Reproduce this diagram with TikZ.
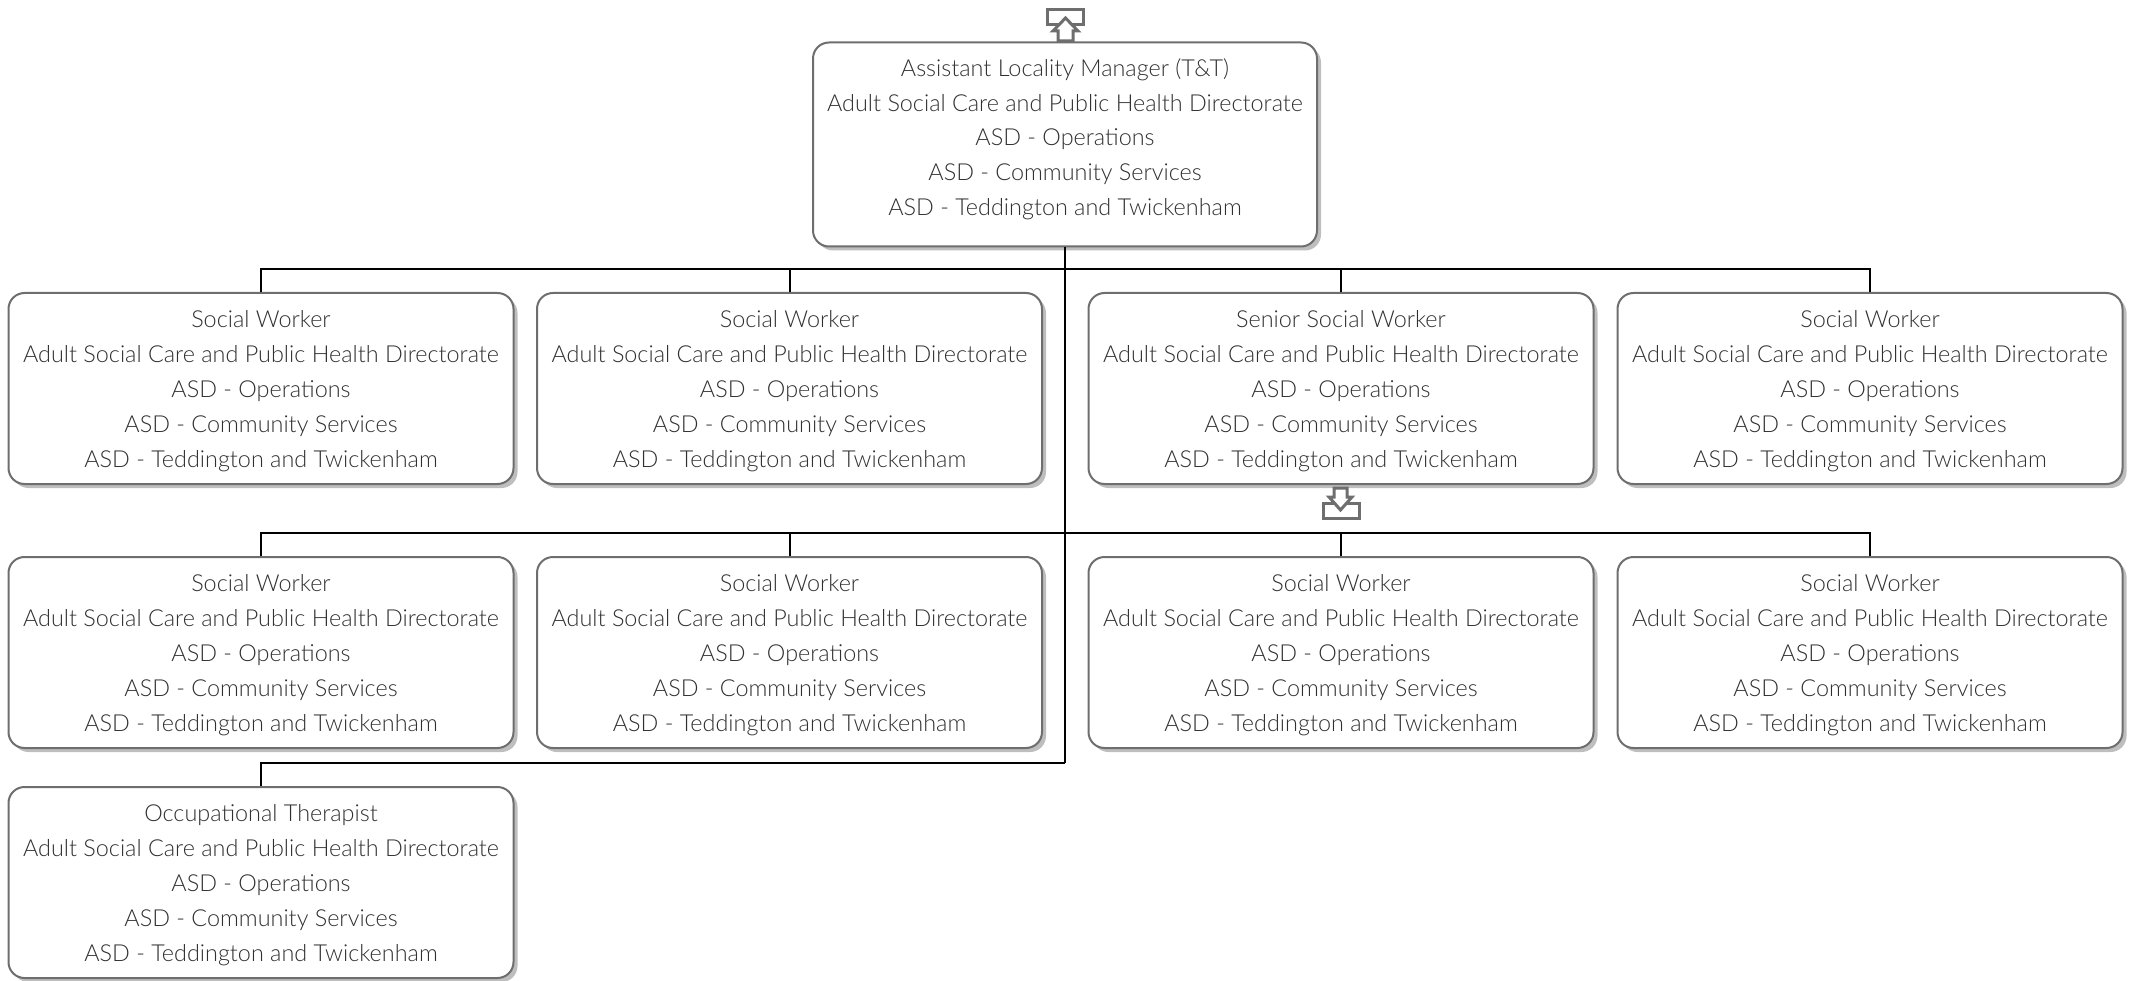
\documentclass[tikz,border=0pt]{standalone}
\usepackage{fontspec}
\setmainfont{Lato}[UprightFont=* Light]
\usetikzlibrary{shadows}
\definecolor{boxline}{HTML}{6E6E6E}
\definecolor{boxshadow}{HTML}{BEBEBE}
\definecolor{boxtext}{HTML}{303030}
\newcommand{\orglines}[1]{#1\\Adult Social Care and Public Health Directorate\\ASD - Operations\\ASD - Community Services\\ASD - Teddington and Twickenham}
\newcommand{\rowlines}[1]{\rule{0pt}{22.5pt}\orglines{#1}}
\tikzset{
  x=1pt,y=-1pt,
  orgbox/.style={draw=boxline,line width=2pt,fill=white,rounded corners=16pt,
    minimum width=505pt,minimum height=191pt,inner sep=0pt,align=center,
    text=boxtext,font=\fontsize{23.4}{34.8}\selectfont,
    drop shadow={shadow xshift=4pt,shadow yshift=-4pt,fill=boxshadow,opacity=1}},
  link/.style={draw=black,line width=2pt},
  icon/.style={draw=boxline,line width=3pt,fill=white,miter limit=10}
}
\begin{document}
\begin{tikzpicture}
\useasboundingbox (0,0) rectangle (2138,981);
% boxes
\node[orgbox,minimum width=504pt,minimum height=204pt] (top) at (1065,144.5) {\orglines{Assistant Locality Manager (T\&T)}\rule[-15pt]{0pt}{15pt}};
\node[orgbox] (a1) at (261,388.5) {\rowlines{Social Worker}};
\node[orgbox] (a2) at (789.5,388.5) {\rowlines{Social Worker}};
\node[orgbox] (a3) at (1341,388.5) {\rowlines{Senior Social Worker}};
\node[orgbox] (a4) at (1870,388.5) {\rowlines{Social Worker}};
\node[orgbox] (b1) at (261,652.5) {\rowlines{Social Worker}};
\node[orgbox] (b2) at (789.5,652.5) {\rowlines{Social Worker}};
\node[orgbox] (b3) at (1341,652.5) {\rowlines{Social Worker}};
\node[orgbox] (b4) at (1870,652.5) {\rowlines{Social Worker}};
\node[orgbox] (c1) at (261,882.5) {\rowlines{Occupational Therapist}};
% connectors
\coordinate (barA) at (1065,269);
\coordinate (barB) at (1065,533);
\coordinate (barC) at (1065,763);
\draw[link] (top.south) -- (barC);
\draw[link] (a1.north) |- (barA);
\draw[link] (a2.north) |- (barA);
\draw[link] (a3.north) |- (barA);
\draw[link] (a4.north) |- (barA);
\draw[link] (b1.north) |- (barB);
\draw[link] (b2.north) |- (barB);
\draw[link] (b3.north) |- (barB);
\draw[link] (b4.north) |- (barB);
\draw[link] (c1.north) |- (barC);
% up-arrow icon above the top box
\draw[icon] (1047.5,9.5) rectangle (1083.5,24.5);
\draw[icon] (1065.5,18) -- (1078,31) -- (1073,31) -- (1073,41) -- (1058,41) -- (1058,31) -- (1053,31) -- cycle;
% down-arrow icon under the senior box
\draw[icon] (1323,503) rectangle (1359,518);
\draw[icon] (1334,488) -- (1347,488) -- (1347,497) -- (1352,497) -- (1340.5,510) -- (1329,497) -- (1334,497) -- cycle;
\end{tikzpicture}
\end{document}
